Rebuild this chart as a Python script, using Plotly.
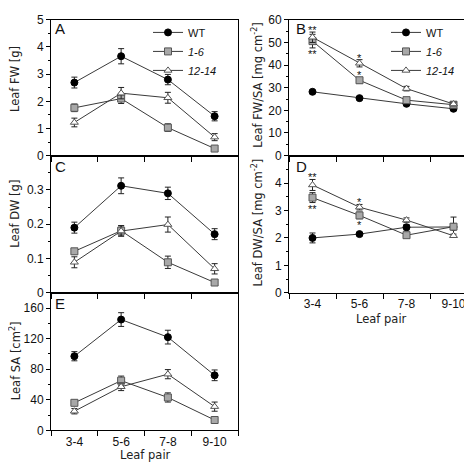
import plotly.graph_objects as go

categories = ["3-4", "5-6", "7-8", "9-10"]
series_names = ["WT", "<i>1-6</i>", "<i>12-14</i>"]

# Panel A: Leaf FW [g]
fw_wt = [2.69, 3.66, 2.80, 1.45]
fw_wt_err = [0.20, 0.28, 0.19, 0.17]
fw_16 = [1.76, 2.10, 1.03, 0.26]
fw_16_err = [0.14, 0.18, 0.14, 0.05]
fw_1214 = [1.22, 2.30, 2.13, 0.68]
fw_1214_err = [0.16, 0.21, 0.20, 0.13]

# Panel B: Leaf FW/SA [mg cm-2]
fwsa_wt = [28.2, 25.4, 22.9, 20.7]
fwsa_wt_err = [0.5, 0.5, 0.5, 0.8]
fwsa_16 = [50.6, 33.3, 24.5, 22.5]
fwsa_16_err = [3.0, 1.2, 1.0, 0.8]
fwsa_1214 = [52.3, 40.8, 29.6, 22.8]
fwsa_1214_err = [2.3, 1.6, 1.0, 0.8]

# Panel C: Leaf DW [g]
dw_wt = [0.190, 0.312, 0.290, 0.171]
dw_wt_err = [0.016, 0.023, 0.018, 0.016]
dw_16 = [0.121, 0.181, 0.089, 0.030]
dw_16_err = [0.008, 0.015, 0.018, 0.005]
dw_1214 = [0.089, 0.180, 0.199, 0.070]
dw_1214_err = [0.016, 0.015, 0.022, 0.015]

# Panel D: Leaf DW/SA [mg cm-2]
dwsa_wt = [2.00, 2.14, 2.39, 2.40]
dwsa_wt_err = [0.18, 0.06, 0.10, 0.10]
dwsa_16 = [3.47, 2.82, 2.10, 2.41]
dwsa_16_err = [0.18, 0.12, 0.06, 0.35]
dwsa_1214 = [3.93, 3.12, 2.65, 2.08]
dwsa_1214_err = [0.20, 0.10, 0.08, 0.06]

# Panel E: Leaf SA [cm2]
sa_wt = [97, 145, 122, 72]
sa_wt_err = [6, 9, 9, 7]
sa_16 = [36, 65, 43, 13.5]
sa_16_err = [3, 6, 6, 3]
sa_1214 = [25, 57, 73.5, 31]
sa_1214_err = [3.5, 5, 6, 6]

# significance marks (category, value, label)
sig_B_cat = ["3-4", "3-4", "5-6", "5-6"]
sig_B_val = [56.6, 45.9, 44.0, 36.4]
sig_D_cat = ["3-4", "3-4", "5-6", "5-6"]
sig_D_val = [4.29, 3.14, 3.39, 2.55]
sig_labels = ["**", "**", "*", "*"]

W, H = 472, 462
FONT = "Liberation Sans, Arial, sans-serif"
TFONT = "DejaVu Sans, Liberation Sans, sans-serif"
LINE_C = "#3a3a3a"
EPS = 1e-6

def px_x(p):
    return p / W

def px_y(p):
    return 1 - p / H

styles = [
    dict(symbol="circle", size=7, color="#000000", line=dict(color="#000000", width=1)),
    dict(symbol="square", size=7, color="#a8a8a8", line=dict(color="#555555", width=1)),
    dict(symbol="triangle-up", size=7, color="#ffffff", line=dict(color="#555555", width=1)),
]

panels = [
    ("x", "y", [fw_wt, fw_16, fw_1214], [fw_wt_err, fw_16_err, fw_1214_err], "legend"),
    ("x2", "y2", [fwsa_wt, fwsa_16, fwsa_1214], [fwsa_wt_err, fwsa_16_err, fwsa_1214_err], "legend2"),
    ("x3", "y3", [dw_wt, dw_16, dw_1214], [dw_wt_err, dw_16_err, dw_1214_err], None),
    ("x4", "y4", [dwsa_wt, dwsa_16, dwsa_1214], [dwsa_wt_err, dwsa_16_err, dwsa_1214_err], None),
    ("x5", "y5", [sa_wt, sa_16, sa_1214], [sa_wt_err, sa_16_err, sa_1214_err], None),
]

fig = go.Figure()
for xa, ya, vals, errs, leg in panels:
    for i in range(3):
        kw = dict(showlegend=leg is not None)
        if leg:
            kw["legend"] = leg
        fig.add_trace(go.Scatter(
            x=categories, y=vals[i], xaxis=xa, yaxis=ya,
            mode="lines+markers", name=series_names[i],
            line=dict(color=LINE_C, width=1),
            marker=styles[i],
            error_y=dict(type="data", array=errs[i], color="#222222", thickness=1, width=3),
            **kw,
        ))

left_dom = [px_x(43), px_x(230)]
right_dom = [px_x(281), px_x(469)]
row1 = [px_y(145), px_y(5)]
row2 = [px_y(286.5), px_y(145)]
row3 = [px_y(428.3), px_y(286.5)]

def xaxis(dom, anchor, labels):
    return dict(
        domain=dom, anchor=anchor, type="category", categoryorder="array",
        categoryarray=categories, range=[-0.5, 3.5], tickson="boundaries",
        ticks="outside", ticklen=5, tickwidth=1, tickcolor="#000",
        showline=True, linecolor="#000", linewidth=1, mirror=True,
        showgrid=False, zeroline=False, showticklabels=labels,
        tickfont=dict(family=FONT, size=12, color="#111"),
    )

def yaxis(dom, anchor, rng, tickvals, minor_dt):
    return dict(
        domain=dom, anchor=anchor, range=[rng[0] - EPS * rng[1], rng[1] * (1 + EPS)],
        tickvals=tickvals, ticklabeloverflow="allow",
        ticks="outside", ticklen=4, tickwidth=1, tickcolor="#000",
        minor=dict(ticks="outside", ticklen=2, dtick=minor_dt, tick0=0, tickcolor="#000"),
        showline=True, linecolor="#000", linewidth=1, mirror=True,
        showgrid=False, zeroline=False,
        tickfont=dict(family=FONT, size=12, color="#111"),
    )

legend_common = dict(
    font=dict(family=FONT, size=11, color="#111"), bgcolor="rgba(0,0,0,0)",
    xanchor="left", yanchor="top", tracegroupgap=0, itemwidth=30,
)

fig.update_layout(
    width=W, height=H, margin=dict(l=0, r=0, t=0, b=0),
    paper_bgcolor="white", plot_bgcolor="white",
    font=dict(family=FONT, size=11, color="#111"),
    xaxis=xaxis(left_dom, "y", False),
    yaxis=yaxis(row1, "x", [0, 5], [0, 1, 2, 3, 4, 5], 0.5),
    xaxis2=xaxis(right_dom, "y2", False),
    yaxis2=yaxis(row1, "x2", [0, 60], [0, 10, 20, 30, 40, 50, 60], 5),
    xaxis3=xaxis(left_dom, "y3", False),
    yaxis3=yaxis(row2, "x3", [0, 0.4], [0, 0.1, 0.2, 0.3], 0.05),
    xaxis4=xaxis(right_dom, "y4", True),
    yaxis4=yaxis(row2, "x4", [0, 5], [0, 1, 2, 3, 4], 0.5),
    xaxis5=xaxis(left_dom, "y5", True),
    yaxis5=yaxis(row3, "x5", [0, 180], [0, 40, 80, 120, 160], 20),
    legend=dict(x=px_x(140), y=px_y(3), **legend_common),
    legend2=dict(x=px_x(378), y=px_y(3), **legend_common),
)

annots = []
# panel letters
for letter, x, y in [("A", 52, 14), ("B", 293, 14), ("C", 52, 156), ("D", 293, 156), ("E", 52, 297)]:
    annots.append(dict(text=letter, x=px_x(x), y=px_y(y), xref="paper", yref="paper",
                       showarrow=False, xanchor="center", yanchor="middle",
                       font=dict(family=FONT, size=15, color="#111")))
# y titles
for t, x, y in [("Leaf FW [g]", 7, 66), ("Leaf DW [g]", 7, 205), ("Leaf SA [cm<sup>2</sup>]", 7, 357),
                ("Leaf FW/SA [mg cm<sup>-2</sup>]", 250, 72), ("Leaf DW/SA [mg cm<sup>-2</sup>]", 250, 214)]:
    annots.append(dict(text=t, x=px_x(x), y=px_y(y), xref="paper", yref="paper",
                       showarrow=False, xanchor="center", yanchor="middle", textangle=-90,
                       font=dict(family=TFONT, size=11.5, color="#222")))
# x titles
for x, y in [(137, 454), (373, 314)]:
    annots.append(dict(text="Leaf pair", x=px_x(x), y=px_y(y), xref="paper", yref="paper",
                       showarrow=False, xanchor="center", yanchor="middle",
                       font=dict(family=TFONT, size=11.5, color="#222")))
# significance marks
for cats, vals, xr, yr in [(sig_B_cat, sig_B_val, "x2", "y2"), (sig_D_cat, sig_D_val, "x4", "y4")]:
    for c, v, s in zip(cats, vals, sig_labels):
        annots.append(dict(text=s, x=c, y=v, xref=xr, yref=yr, showarrow=False,
                           xanchor="center", yanchor="middle", yshift=-2,
                           font=dict(family=FONT, size=11, color="#111")))
fig.update_layout(annotations=annots)

fig.write_html("out.html")
